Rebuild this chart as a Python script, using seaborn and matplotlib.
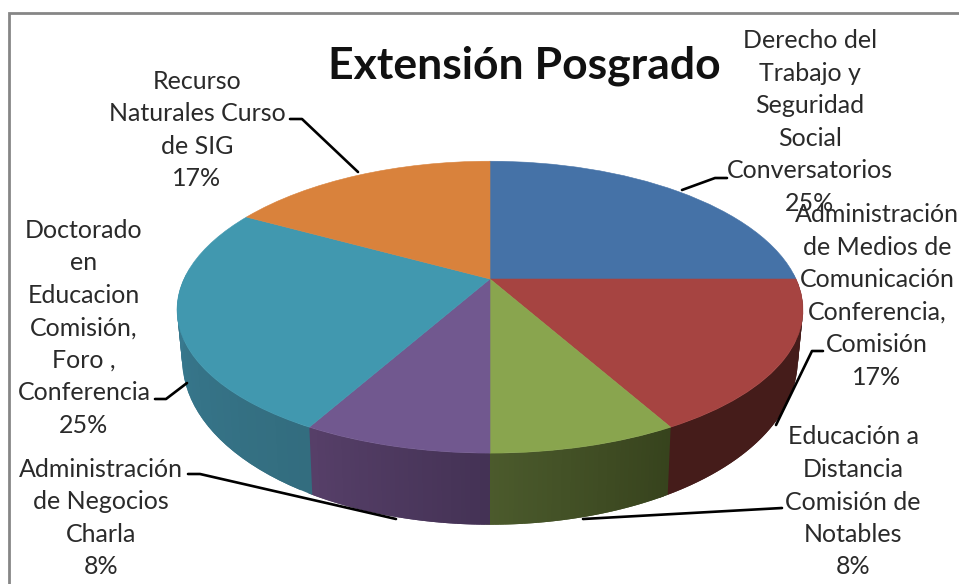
import numpy as np
import seaborn as sns
import matplotlib
matplotlib.use("Agg")
import matplotlib.pyplot as plt
from matplotlib.transforms import Transform

sns.set_theme(style="white")
plt.rcParams['font.family'] = ['Lato', 'DejaVu Sans']

TITLE = "Extensión Posgrado"
labels = [
    "Derecho del\nTrabajo y\nSeguridad\nSocial\nConversatorios",
    "Administración\nde Medios de\nComunicación\nConferencia,\nComisión",
    "Educación a\nDistancia\nComisión de\nNotables",
    "Administración\nde Negocios\nCharla",
    "Doctorado\nen\nEducacion\nComisión,\nForo ,\nConferencia",
    "Recurso\nNaturales Curso\nde SIG",
]
values = [25, 17, 8, 8, 25, 17]
top_colors = ["#4572A7", "#A64441", "#89A54E", "#71588F", "#4198AF", "#D9823C"]
side_start = ["#2B4567", "#451C1A", "#37431D", "#443255", "#336D7F", "#85501F"]
side_end = ["#2B4567", "#451C1A", "#4B5A2C", "#563F68", "#3B829A", "#85501F"]
label_pos = [(810, 122), (877, 296), (853, 502), (101, 518), (84, 328), (197, 130)]
leaders = [
    [(727, 178), (715, 178), (682, 190)],
    [(823, 351), (812, 351), (776, 425)],
    [(782, 508), (583, 519)],
    [(188, 474), (200, 474), (396, 519)],
    [(155, 399), (166, 399), (187, 383)],
    [(290, 119), (302, 119), (358, 172)],
]


class Perspective(Transform):
    """Maps the unit circle of the pie onto the tilted disc, in pixels."""
    input_dims = 2
    output_dims = 2
    is_separable = False

    def __init__(self, a, b, dy, kx=0.21, ky=0.193, cx=490, cy=279):
        super().__init__()
        self.a, self.b, self.dy = a, b, dy
        self.kx, self.ky, self.cx, self.cy = kx, ky, cx, cy

    def transform_non_affine(self, xy):
        xy = np.asarray(xy, dtype=float)
        return np.column_stack((
            self.cx + self.a * xy[:, 0] / (1 + self.kx * xy[:, 1]),
            self.cy + self.dy - self.b * xy[:, 1] / (1 + self.ky * xy[:, 1])))


top_face = Perspective(306, 140.5, 0)
bottom_face = Perspective(301, 162, 45)

fig = plt.figure(figsize=(9.59, 5.84), dpi=100, facecolor="white")
ax = fig.add_axes([0, 0, 1, 1])

# top face: a real pie, projected through the perspective transform
wedges, _ = ax.pie(values, colors=sns.color_palette(top_colors), startangle=90,
                   counterclock=False, radius=1,
                   wedgeprops=dict(linewidth=0.4, zorder=3))
ax.set_aspect("auto")
ax.set_xlim(0, 959)
ax.set_ylim(584, 0)
ax.axis("off")
for w, c in zip(wedges, top_colors):
    w.set_transform(top_face + ax.transData)
    w.set_edgecolor(c)
    w.set_clip_on(False)

# side wall, from the same shares of the circle; strips overlap to hide seams
edges = np.cumsum([0] + values) / sum(values) * 2 * np.pi
for i in range(len(values)):
    n = 40
    step = (edges[i + 1] - edges[i]) / n
    th = edges[i] + step * np.arange(n + 2)
    shades = sns.blend_palette([side_start[i], side_end[i]], n)
    pts = np.column_stack((np.sin(th), np.cos(th)))
    up = top_face.transform_non_affine(pts)
    lo = bottom_face.transform_non_affine(pts)
    for j in range(n):
        if pts[j, 1] > 0.02 and pts[j + 1, 1] > 0.02:
            continue
        ax.fill([up[j, 0], up[j + 2, 0], lo[j + 2, 0], lo[j, 0]],
                [up[j, 1], up[j + 2, 1], lo[j + 2, 1], lo[j, 1]],
                color=shades[j], lw=0, zorder=1 + i * 0.01)

# outer frame
ax.plot([9, 9, 959], [584, 13, 13], color="#868686", lw=2, zorder=0,
        solid_joinstyle="miter", clip_on=False)

ax.text(524, 66, TITLE, fontsize=32, fontweight="bold", color="#111111",
        ha="center", va="center", zorder=6)

for name, v, (x, y), path in zip(labels, values, label_pos, leaders):
    ax.text(x, y, f"{name}\n{v}%", fontsize=18, color="#2a2a2a", ha="center",
            va="center", linespacing=1.5, zorder=6)
    ax.plot(*zip(*path), color="black", lw=1.9, zorder=5)

fig.savefig("out.png", dpi=100, facecolor="white")
